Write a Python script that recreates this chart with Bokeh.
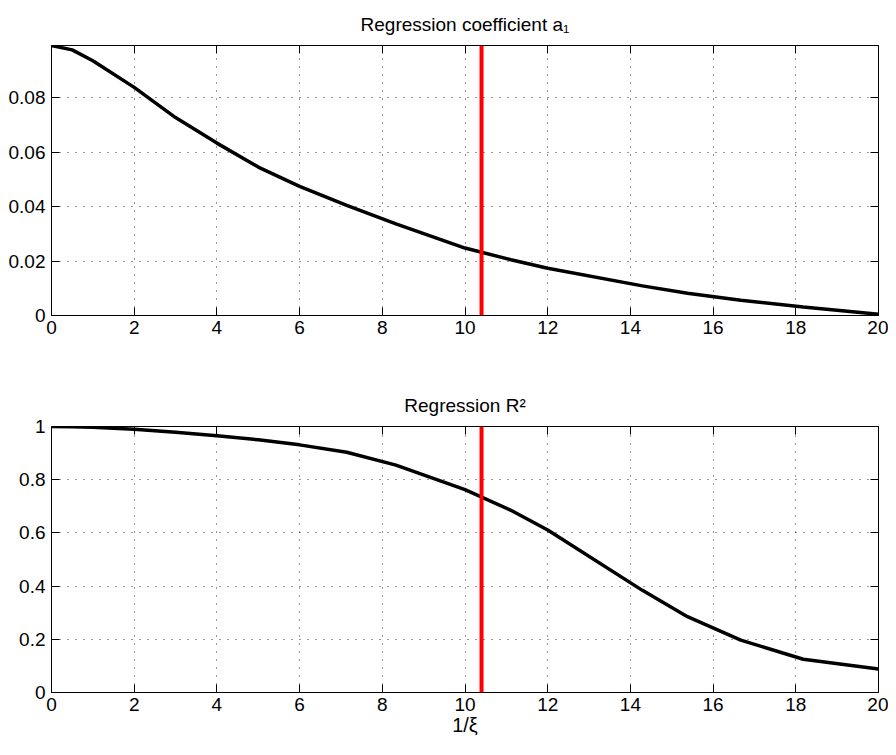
from bokeh.plotting import figure
from bokeh.models import Range1d, FixedTicker, LinearAxis, Span
from bokeh.layouts import column
from bokeh.embed import file_html
from bokeh.resources import INLINE

# ---- data ----
x_vals = [0, 0.5, 1, 2, 3, 4, 5, 6, 7.14, 8.33, 10, 11.11, 12.0, 14.29, 15.38, 16.67, 18.18, 20]
a1_vals = [0.0993, 0.0977, 0.0937, 0.0839, 0.0728, 0.0634, 0.0546, 0.0475, 0.0405, 0.0337,
           0.0248, 0.0205, 0.0174, 0.0109, 0.0082, 0.0056, 0.0031, 0.0005]
r2_vals = [1.0, 0.999, 0.997, 0.99, 0.978, 0.965, 0.95, 0.931, 0.903, 0.855,
           0.763, 0.685, 0.611, 0.384, 0.285, 0.197, 0.125, 0.088]
threshold = [10.4]

x_ticks = [0, 2, 4, 6, 8, 10, 12, 14, 16, 18, 20]
a1_ticks = [0, 0.02, 0.04, 0.06, 0.08]
a1_tick_labels = ["0", "0.02", "0.04", "0.06", "0.08"]
r2_ticks = [0, 0.2, 0.4, 0.6, 0.8, 1.0]
r2_tick_labels = ["0", "0.2", "0.4", "0.6", "0.8", "1"]

top_title = "Regression coefficient a\u2081"
bot_title = "Regression R\u00b2"
x_label = "1/\u03be"

FONT = "Liberation Sans"
W = 888


def style(p, yticks, ylabels):
    p.title.text_font = FONT
    p.title.text_font_size = "19px"
    p.title.text_font_style = "normal"
    p.title.align = "center"
    p.title.text_color = "black"
    p.title.standoff = 21
    p.outline_line_color = "black"
    p.outline_line_width = 1
    p.background_fill_color = "white"
    p.border_fill_color = "white"

    xa = p.xaxis[0]
    xa.ticker = FixedTicker(ticks=x_ticks)
    ya = p.yaxis[0]
    ya.ticker = FixedTicker(ticks=yticks)
    ya.major_label_overrides = {t: l for t, l in zip(yticks, ylabels)}
    for ax in (xa, ya):
        ax.major_tick_in = 8
        ax.major_tick_out = 0
        ax.minor_tick_line_color = None
        ax.major_tick_line_color = "black"
        ax.axis_line_color = "black"
        ax.major_label_text_font = FONT
        ax.major_label_text_font_size = "19px"
        ax.major_label_text_color = "black"
    xa.major_label_standoff = 5
    ya.major_label_standoff = 6

    # box ticks on right and top
    ra = LinearAxis(ticker=FixedTicker(ticks=yticks))
    ta = LinearAxis(ticker=FixedTicker(ticks=x_ticks))
    for ax in (ra, ta):
        ax.major_tick_in = 8
        ax.major_tick_out = 0
        ax.minor_tick_line_color = None
        ax.major_tick_line_color = "black"
        ax.axis_line_color = None
        ax.major_label_text_font_size = "0px"
        ax.major_label_text_color = None
        ax.major_label_standoff = 0
    p.add_layout(ra, "right")
    p.add_layout(ta, "above")

    p.xgrid.ticker = FixedTicker(ticks=x_ticks)
    p.ygrid.ticker = FixedTicker(ticks=yticks)
    for g in (p.xgrid[0], p.ygrid[0]):
        g.grid_line_color = "#333333"
        g.grid_line_dash = "1 7"
        g.grid_line_width = 1
    return xa


p1 = figure(width=W, height=368, output_backend="svg", toolbar_location=None,
            x_range=Range1d(0, 20), y_range=Range1d(0, 0.0993),
            min_border_left=51, min_border_right=10, min_border_top=45, min_border_bottom=53,
            title=top_title)
style(p1, a1_ticks, a1_tick_labels)
p1.line(x_vals, a1_vals, line_color="black", line_width=3.5)
p1.add_layout(Span(location=threshold[0], dimension="height", line_color="#ff0000", line_width=4))

p2 = figure(width=W, height=371, output_backend="svg", toolbar_location=None,
            x_range=Range1d(0, 20), y_range=Range1d(0, 1),
            min_border_left=51, min_border_right=10, min_border_top=58, min_border_bottom=47,
            title=bot_title)
xa2 = style(p2, r2_ticks, r2_tick_labels)
xa2.axis_label = x_label
xa2.axis_label_text_font = FONT
xa2.axis_label_text_font_size = "20px"
xa2.axis_label_text_font_style = "normal"
xa2.axis_label_text_color = "black"
xa2.axis_label_standoff = 0
p2.line(x_vals, r2_vals, line_color="black", line_width=3.5)
p2.add_layout(Span(location=threshold[0], dimension="height", line_color="#ff0000", line_width=4))

layout = column(p1, p2, spacing=0)
open("out.html", "w").write(file_html(layout, INLINE))
